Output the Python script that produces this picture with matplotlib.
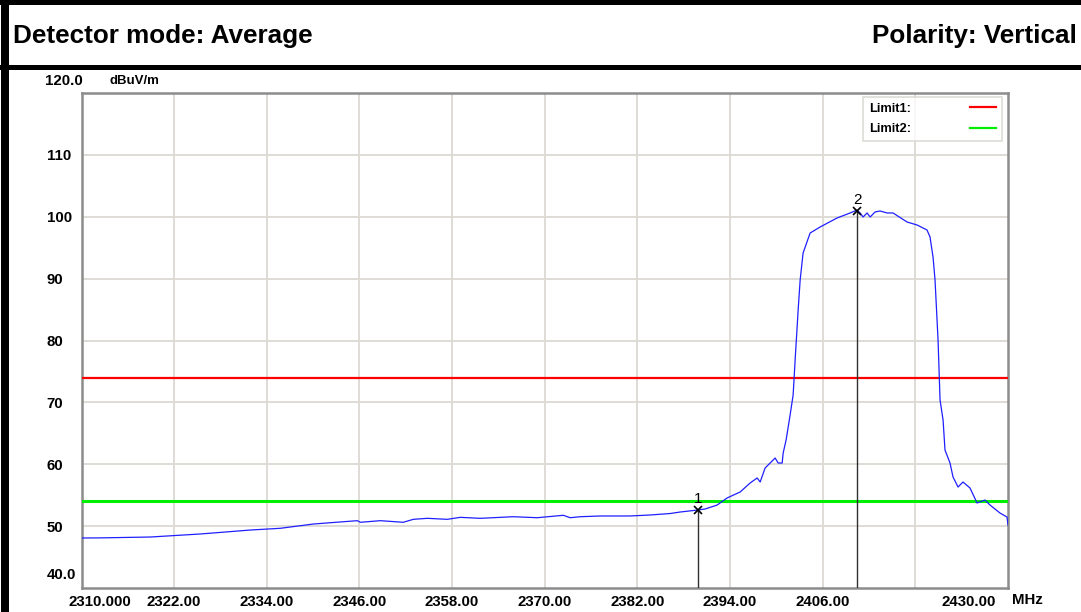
import matplotlib
matplotlib.use("Agg")
import matplotlib.pyplot as plt
from matplotlib.patches import Rectangle
import matplotlib.transforms as mtransforms

plt.rcParams['font.family'] = ['Liberation Sans', 'DejaVu Sans']

# ---- data ----
freq_mhz = [2310.00, 2312.46, 2318.93, 2325.40, 2331.88, 2335.76, 2340.03, 2342.23,
            2345.73, 2346.12, 2348.71, 2351.68, 2352.98, 2354.79, 2357.38, 2359.06,
            2361.65, 2365.92, 2369.03, 2372.40, 2373.30, 2374.60, 2377.18, 2381.07,
            2383.66, 2386.25, 2387.54, 2389.87, 2390.78, 2392.33, 2393.62, 2395.31,
            2396.60, 2397.51, 2397.90, 2398.54, 2399.84, 2400.23, 2400.75, 2400.88,
            2401.26, 2401.78, 2402.17, 2402.43, 2402.82, 2403.08, 2403.46, 2404.37,
            2405.66, 2407.86, 2409.55, 2410.45, 2410.84, 2411.23, 2411.75, 2412.14,
            2412.78, 2413.43, 2414.34, 2415.11, 2416.93, 2418.22, 2419.51, 2419.90,
            2420.29, 2420.55, 2420.94, 2421.20, 2421.59, 2421.84, 2422.49, 2422.88,
            2423.53, 2424.17, 2425.08, 2425.99, 2427.02, 2427.67, 2428.96, 2429.87,
            2430.00]
level_dbuv = [48.08, 48.10, 48.24, 48.73, 49.37, 49.65, 50.34, 50.55,
              50.88, 50.62, 50.88, 50.62, 51.10, 51.26, 51.10, 51.42,
              51.26, 51.52, 51.36, 51.75, 51.36, 51.52, 51.64, 51.64,
              51.80, 52.04, 52.28, 52.61, 52.77, 53.41, 54.55, 55.52,
              56.97, 57.78, 57.13, 59.39, 61.01, 60.20, 60.20, 61.82,
              63.92, 67.96, 71.19, 76.85, 84.93, 89.78, 94.14, 97.37,
              98.34, 99.80, 100.61, 101.09, 100.61, 99.96, 100.61, 99.96,
              100.77, 100.93, 100.61, 100.61, 99.15, 98.67, 97.86, 96.73,
              93.49, 89.78, 80.08, 70.38, 67.15, 62.30, 60.20, 57.94,
              56.32, 57.13, 56.16, 53.74, 54.22, 53.41, 52.12, 51.47,
              50.18]
limit1 = 74.0
limit2 = 54.0
marker_freq = [2389.90, 2410.45]
marker_level = [52.6, 101.0]
marker_names = ["1", "2"]
x_ticks = [2310, 2322, 2334, 2346, 2358, 2370, 2382, 2394, 2406, 2418, 2430]
x_labels = ["2310.000", "2322.00", "2334.00", "2346.00", "2358.00", "2370.00",
            "2382.00", "2394.00", "2406.00", "", "2430.00"]
y_ticks = [50, 60, 70, 80, 90, 100, 110]
y_labels = ["50", "60", "70", "80", "90", "100", "110"]

W, H = 1081, 612
fig = plt.figure(figsize=(W / 100, H / 100), dpi=100)
fig.patch.set_facecolor('white')

# header bands
def band(x0, y0, x1, y1):
    fig.add_artist(Rectangle((x0 / W, 1 - y1 / H), (x1 - x0) / W, (y1 - y0) / H,
                             transform=fig.transFigure, facecolor='black',
                             edgecolor='none', zorder=10))
band(0, 0, W, 5)
band(0, 65, W, 70)
band(1, 0, 9, H)

fig.text(13 / W, 1 - 36 / H, "Detector mode: Average", fontsize=18.8,
         fontweight='bold', va='center', ha='left')
fig.text(1077 / W, 1 - 36 / H, "Polarity: Vertical", fontsize=18.8,
         fontweight='bold', va='center', ha='right')

ax = fig.add_axes([81.5 / W, 1 - 588 / H, (1008 - 81.5) / W, (588 - 93) / H])
ax.set_xlim(2310, 2430)
ax.set_ylim(40, 120)

grid_c = '#dcd9d3'
for xv in x_ticks[1:-1]:
    ax.axvline(xv, color=grid_c, lw=1.3, zorder=1)
for yv in y_ticks:
    ax.axhline(yv, color=grid_c, lw=1.3, zorder=1)

ax.axhline(limit1, color='#ff0000', lw=1.6, zorder=3, label='Limit1:')
ax.axhline(limit2, color='#00ee00', lw=2.2, zorder=3, label='Limit2:')

ax.plot(freq_mhz, level_dbuv, color='#1f1fff', lw=0.9, zorder=4)

for f, lv, nm in zip(marker_freq, marker_level, marker_names):
    ax.plot([f, f], [40, lv], color='#303030', lw=1.0, zorder=5)
    ax.plot([f], [lv], marker='x', color='black', ms=6, mew=1.2, zorder=6)
    ax.annotate(nm, xy=(f, lv), xytext=(0, 11), textcoords='offset pixels',
                ha='center', va='center', fontsize=11, color='black')

for s in ax.spines.values():
    s.set_color('#8c8c8c')
    s.set_linewidth(1.8)

tick_fs = 10.8
ax.set_xticks(x_ticks)
ax.set_xticklabels(x_labels)
ax.set_yticks(y_ticks)
ax.set_yticklabels(y_labels)
ax.tick_params(axis='both', length=0, labelsize=tick_fs)
ax.tick_params(axis='x', pad=5)
ax.tick_params(axis='y', pad=25)
for lb in ax.get_xticklabels() + ax.get_yticklabels():
    lb.set_fontweight('bold')
for lb in ax.get_yticklabels():
    lb.set_ha('left')
xl = ax.get_xticklabels()
xl[0].set_ha('left')
xl[0].set_transform(xl[0].get_transform() + mtransforms.Affine2D().translate(-13, 0))
xl[-1].set_ha('right')
xl[-1].set_transform(xl[-1].get_transform() + mtransforms.Affine2D().translate(-12, 0))

ax.annotate("120.0", xy=(0, 120), xycoords=('axes fraction', 'data'),
            xytext=(-36, 12), textcoords='offset pixels', ha='left', va='center',
            fontsize=tick_fs, fontweight='bold')
ax.annotate("dBuV/m", xy=(0, 120), xycoords=('axes fraction', 'data'),
            xytext=(28, 12), textcoords='offset pixels', ha='left', va='center',
            fontsize=9.5, fontweight='bold')
ax.annotate("40.0", xy=(0, 40), xycoords=('axes fraction', 'data'),
            xytext=(-35, 13), textcoords='offset pixels', ha='left', va='center',
            fontsize=tick_fs, fontweight='bold')
ax.annotate("MHz", xy=(1, 0), xycoords='axes fraction',
            xytext=(4, -12), textcoords='offset pixels', ha='left', va='center',
            fontsize=tick_fs, fontweight='bold')

leg = ax.legend(loc='upper right', bbox_to_anchor=(1002 / W, 1 - 97 / H),
                bbox_transform=fig.transFigure, markerfirst=False, frameon=True,
                fancybox=False, prop={'size': 9.3, 'weight': 'bold'},
                handlelength=2.0, handletextpad=4.6, borderpad=0.45,
                labelspacing=0.65, borderaxespad=0)
leg.get_frame().set_edgecolor('#d6d3ce')
leg.get_frame().set_linewidth(1.2)
for ln in leg.get_lines():
    ln.set_linewidth(1.6)

fig.savefig("out.png", dpi=100)
